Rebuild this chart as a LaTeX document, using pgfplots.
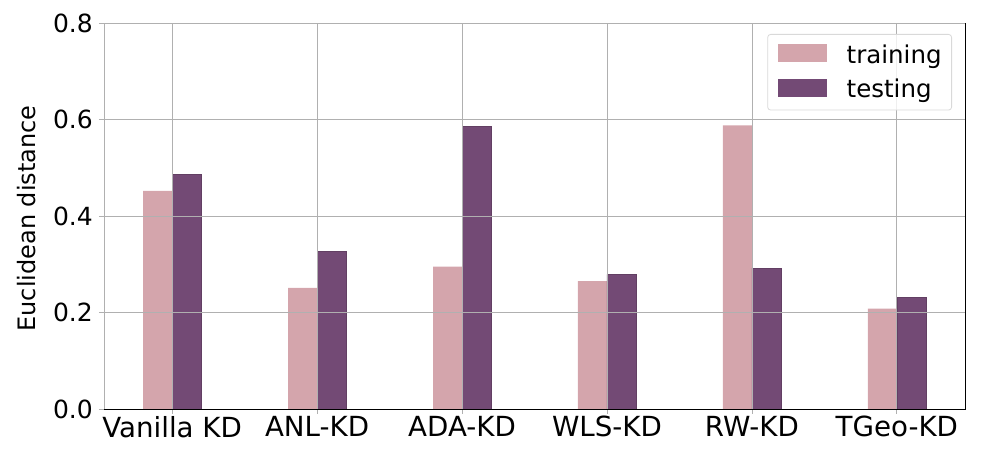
\documentclass[border=0pt]{standalone}
\usepackage{fontspec}
\setmainfont{DejaVu Sans}
\usepackage{pgfplots}
\pgfplotsset{compat=1.18}
\definecolor{trainc}{RGB}{212,165,172}
\definecolor{testc}{RGB}{115,74,117}
\definecolor{gridc}{RGB}{176,176,176}
\begin{document}
\begin{tikzpicture}
\begin{axis}[
  width=861pt, height=386pt, scale only axis,
  xmin=-0.47, xmax=5.47, ymin=0, ymax=0.8,
  xtick={0,1,2,3,4,5},
  xticklabels={Vanilla KD, ANL-KD, ADA-KD, WLS-KD, RW-KD, TGeo-KD},
  ytick={0,0.2,0.4,0.6,0.8},
  /pgf/number format/.cd, fixed, fixed zerofill, precision=1, assume math mode=true,
  /pgfplots/.cd,
  tick pos=left,
  grid=major,
  grid style={color=gridc, line width=0.8pt},
  axis on top,
  tick align=outside,
  major tick length=5pt,
  tick style={color=gridc, line width=0.8pt},
  axis line style={color=gridc, line width=0.8pt},
  x tick label style={font=\fontsize{27.7}{33}\selectfont, inner sep=0pt, anchor=north, yshift=-2pt},
  y tick label style={font=\fontsize{25}{30}\selectfont, inner sep=0pt, anchor=east, xshift=-6pt},
  ylabel={Euclidean distance},
  every axis y label/.style={at={(rel axis cs:0,0.5)}, rotate=90, anchor=south, inner sep=0pt, yshift=68pt, xshift=-2.5pt, font=\fontsize{24}{29}\selectfont},
  legend style={at={(rel axis cs:1,1)}, anchor=north east, xshift=-13pt, yshift=-11pt,
    draw=black!15, line width=0.8pt, rounded corners=3pt, fill=white, fill opacity=0.8, text opacity=1,
    inner xsep=10pt, inner ysep=10pt, row sep=12.7pt,
    font=\fontsize{24.5}{29}\selectfont,
    nodes={inner sep=0pt, text height=0.75em, text depth=0.25em},
    /tikz/every odd column/.append style={column sep=20pt}},
  legend cell align=left,
  legend image code/.code={\fill[#1, draw=none, sharp corners, fill opacity=1] (0pt,-1.5pt) rectangle (49pt,16.5pt);},
]
\addplot[ybar, bar width=0.2, bar shift=-0.1, fill=trainc, draw=none] coordinates {
  (0,0.452) (1,0.251) (2,0.295) (3,0.265) (4,0.588) (5,0.208)};
\addlegendentry{training}
\addplot[ybar, bar width=0.2, bar shift=0.1, fill=testc, draw=testc!85!black, line width=0.5pt] coordinates {
  (0,0.487) (1,0.326) (2,0.586) (3,0.279) (4,0.292) (5,0.231)};
\addlegendentry{testing}
\coordinate (ll) at (rel axis cs:0,0);
\coordinate (ur) at (rel axis cs:1,1);
\coordinate (lr) at (rel axis cs:1,0);
\end{axis}
\draw[black, line width=0.9pt] (ll) -- (lr) -- (ur);
\pgfresetboundingbox
\useasboundingbox ([xshift=-104pt,yshift=-43pt]ll) rectangle ([xshift=21pt,yshift=23pt]ur);
\end{tikzpicture}
\end{document}
